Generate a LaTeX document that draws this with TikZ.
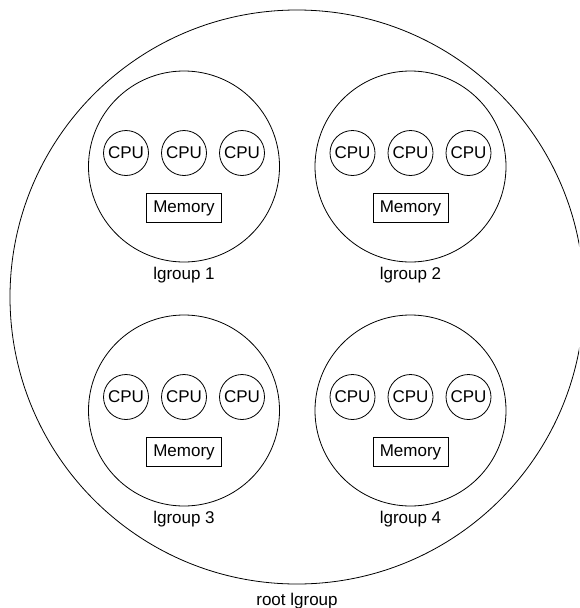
\documentclass[tikz,border=0pt]{standalone}
\usepackage{fontspec}
\setmainfont{Liberation Sans}
\begin{document}
\begin{tikzpicture}[x=1pt,y=-1pt,line width=0.8pt,
  every node/.style={font=\fontsize{17}{20}\selectfont},
  cpu/.style={draw,circle,inner sep=0pt,minimum size=45pt},
  mem/.style={draw,rectangle,inner sep=0pt,minimum width=75pt,minimum height=29pt},
  lgrp/.style={draw,circle,inner sep=0pt,minimum size=191pt}]
  \useasboundingbox (0,0) rectangle (579,608);
  \clip (0,0) rectangle (579,608);
  \draw (297,297) circle (287pt);
  \node (root) at (297,601) {root lgroup};
  \foreach \n/\x/\y in {1/184/166.5,2/410.5/166.5,3/184/410.5,4/410.5/410.5}{
    \node[lgrp] (g\n) at (\x,\y) {};
    \foreach \k/\dx in {1/-58,2/0,3/58}
      \node[cpu] (cpu\n\k) at (\x+\dx,\y-13.5) {CPU};
    \node[mem] (mem\n) at (\x,\y+41.5) {Memory};
    \node (lbl\n) at (\x,\y+109) {lgroup \n};
  }
\end{tikzpicture}
\end{document}
